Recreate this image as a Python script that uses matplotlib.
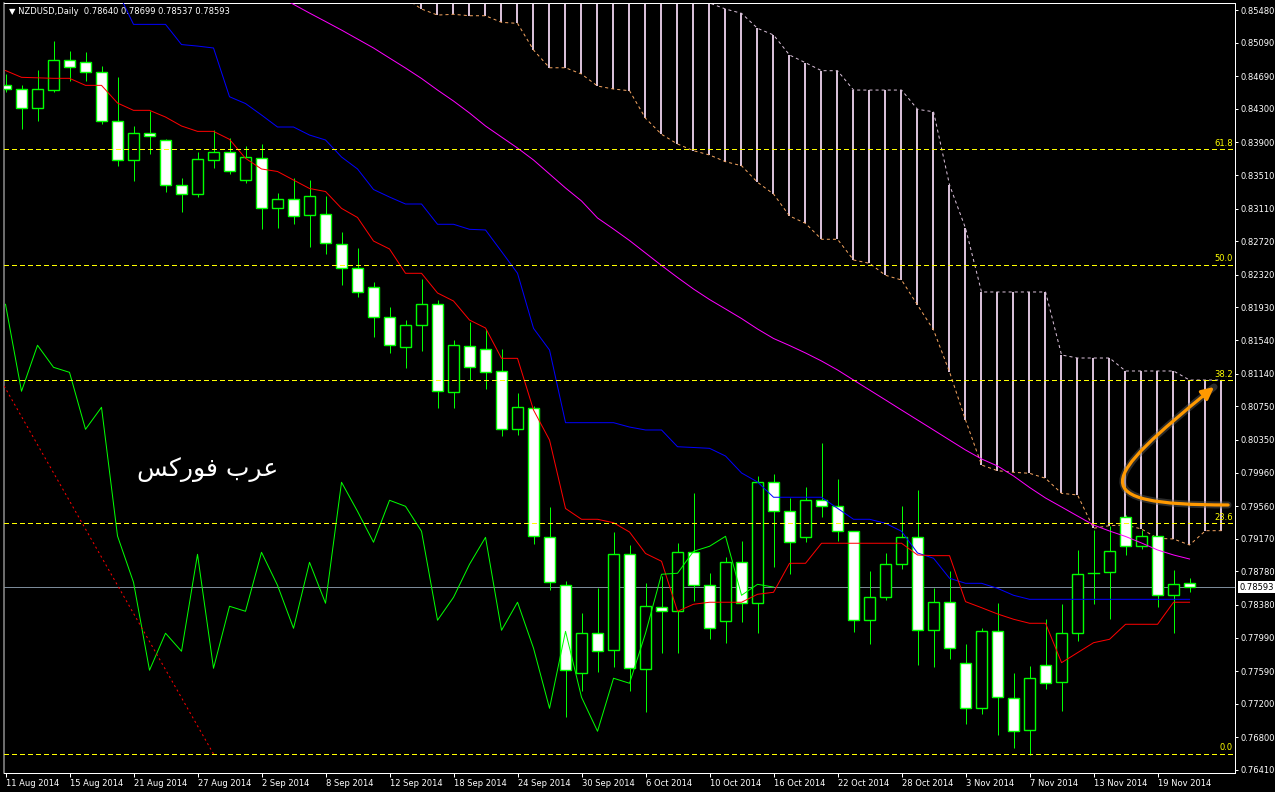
import numpy as np
import matplotlib
matplotlib.use("Agg")
import matplotlib.pyplot as plt
from matplotlib.patches import Rectangle, FancyArrowPatch
from matplotlib.path import Path
from matplotlib.transforms import blended_transform_factory

plt.rcParams["lines.scale_dashes"] = False
plt.rcParams["font.family"] = ["DejaVu Sans"]

# ---------------- data ----------------
title_text = "NZDUSD,Daily  0.78640 0.78699 0.78537 0.78593"
date_labels = ["11 Aug 2014", "15 Aug 2014", "21 Aug 2014", "27 Aug 2014", "2 Sep 2014",
               "8 Sep 2014", "12 Sep 2014", "18 Sep 2014", "24 Sep 2014", "30 Sep 2014",
               "6 Oct 2014", "10 Oct 2014", "16 Oct 2014", "22 Oct 2014", "28 Oct 2014",
               "3 Nov 2014", "7 Nov 2014", "13 Nov 2014", "19 Nov 2014"]
label_step = 4

opens = [0.84581, 0.84534, 0.84307, 0.84529, 0.84880, 0.84856, 0.84736, 0.84152, 0.83686, 0.84009,
         0.83925, 0.83388, 0.83281, 0.83686, 0.83782, 0.83448, 0.83710, 0.83113, 0.83221, 0.83030,
         0.83042, 0.82684, 0.82397, 0.82171, 0.81813, 0.81455, 0.81717, 0.81968, 0.80918, 0.81467,
         0.81431, 0.81168, 0.80476, 0.80727, 0.79187, 0.78614, 0.77564, 0.78042, 0.77839, 0.78984,
         0.77612, 0.78352, 0.78304, 0.79008, 0.78614, 0.78185, 0.78889, 0.78400, 0.79844, 0.79497,
         0.79187, 0.79629, 0.79557, 0.79259, 0.78197, 0.78471, 0.78865, 0.79187, 0.78077, 0.78412,
         0.77684, 0.77146, 0.78065, 0.77266, 0.76884, 0.77660, 0.77457, 0.78042, 0.78758, 0.78770,
         0.79426, 0.79080, 0.79199, 0.78495, 0.78640]
highs = [0.84716, 0.84581, 0.84764, 0.85110, 0.84991, 0.84979, 0.84812, 0.84677, 0.84092, 0.84278,
         0.83937, 0.83475, 0.83782, 0.84044, 0.83949, 0.83853, 0.83877, 0.83293, 0.83472, 0.83448,
         0.83260, 0.82827, 0.82636, 0.82230, 0.81932, 0.81780, 0.82266, 0.82016, 0.81538, 0.81757,
         0.81669, 0.81431, 0.80906, 0.80751, 0.79545, 0.78666, 0.78284, 0.78578, 0.79250, 0.79092,
         0.78638, 0.78722, 0.79116, 0.79716, 0.78761, 0.78949, 0.79139, 0.79919, 0.79939, 0.79653,
         0.79784, 0.80313, 0.79879, 0.79263, 0.78781, 0.78996, 0.79557, 0.79748, 0.78578, 0.78781,
         0.77910, 0.78101, 0.78400, 0.77564, 0.77648, 0.78209, 0.78388, 0.79032, 0.79271, 0.79326,
         0.79453, 0.79274, 0.79203, 0.78793, 0.78699]
lows = [0.84501, 0.84056, 0.84159, 0.84505, 0.84636, 0.84636, 0.84123, 0.83622, 0.83443, 0.83765,
        0.83312, 0.83073, 0.83252, 0.83598, 0.83519, 0.83415, 0.82870, 0.82878, 0.82932, 0.82655,
        0.82572, 0.82202, 0.82051, 0.81574, 0.81383, 0.81204, 0.81414, 0.80734, 0.80734, 0.81061,
        0.80953, 0.80393, 0.80404, 0.79107, 0.78562, 0.77046, 0.77353, 0.77576, 0.77643, 0.77353,
        0.77106, 0.77803, 0.77803, 0.78423, 0.77970, 0.77922, 0.78180, 0.78042, 0.78829, 0.78746,
        0.79128, 0.79426, 0.79139, 0.78053, 0.77910, 0.78435, 0.78805, 0.77660, 0.77636, 0.77731,
        0.76956, 0.77075, 0.76824, 0.76669, 0.76586, 0.77373, 0.77111, 0.77946, 0.78388, 0.78209,
        0.78972, 0.79044, 0.78352, 0.78042, 0.78537]
closes = [0.84534, 0.84307, 0.84534, 0.84880, 0.84796, 0.84736, 0.84152, 0.83686, 0.84009, 0.83973,
          0.83388, 0.83281, 0.83698, 0.83782, 0.83555, 0.83722, 0.83113, 0.83221, 0.83016, 0.83260,
          0.82696, 0.82397, 0.82111, 0.81813, 0.81479, 0.81717, 0.81968, 0.80930, 0.81479, 0.81216,
          0.81156, 0.80476, 0.80739, 0.79203, 0.78650, 0.77600, 0.78042, 0.77827, 0.78984, 0.77624,
          0.78364, 0.78304, 0.79008, 0.78614, 0.78101, 0.78889, 0.78400, 0.79844, 0.79497, 0.79128,
          0.79629, 0.79557, 0.79259, 0.78197, 0.78471, 0.78865, 0.79187, 0.78077, 0.78412, 0.77863,
          0.77146, 0.78065, 0.77278, 0.76872, 0.77505, 0.77445, 0.78042, 0.78746, 0.78758, 0.79020,
          0.79080, 0.79199, 0.78495, 0.78626, 0.78593]

tenkan = [0.84758, 0.84677, 0.84671, 0.84665, 0.84665, 0.84581, 0.84581, 0.84370, 0.84283, 0.84283,
          0.84203, 0.84096, 0.84032, 0.84032, 0.83937, 0.83710, 0.83583, 0.83553, 0.83451, 0.83350,
          0.83314, 0.83113, 0.83004, 0.82723, 0.82628, 0.82338, 0.82338, 0.82103, 0.82007, 0.81780,
          0.81685, 0.81323, 0.81323, 0.80706, 0.80348, 0.79531, 0.79402, 0.79402, 0.79361, 0.79250,
          0.78994, 0.78901, 0.78304, 0.78388, 0.78412, 0.78412, 0.78412, 0.78507, 0.78531, 0.78877,
          0.78877, 0.79116, 0.79116, 0.79116, 0.79116, 0.79116, 0.79116, 0.78976, 0.78968, 0.78968,
          0.78419, 0.78347, 0.78272, 0.78209, 0.78161, 0.78161, 0.77691, 0.77810, 0.77929, 0.77970,
          0.78149, 0.78149, 0.78149, 0.78412, 0.78412]
nan = float("nan")
kijun = [nan, nan, nan, nan, nan, nan, 0.85898, 0.85707, 0.85309, 0.85309,
         0.85309, 0.85068, 0.85050, 0.85027, 0.84445, 0.84364, 0.84227, 0.84084, 0.84084, 0.83988,
         0.83929, 0.83726, 0.83583, 0.83338, 0.83248, 0.83165, 0.83165, 0.82923, 0.82923, 0.82863,
         0.82855, 0.82598, 0.82338, 0.81681, 0.81422, 0.80555, 0.80555, 0.80555, 0.80555, 0.80503,
         0.80468, 0.80468, 0.80268, 0.80259, 0.80249, 0.80157, 0.79955, 0.79847, 0.79665, 0.79665,
         0.79665, 0.79665, 0.79533, 0.79402, 0.79402, 0.79354, 0.79259, 0.79000, 0.78937, 0.78698,
         0.78638, 0.78638, 0.78578, 0.78495, 0.78447, 0.78447, 0.78447, 0.78447, 0.78447, 0.78447,
         0.78447, 0.78447, 0.78447, 0.78447, 0.78447]
moving_avg = [nan] * 17 + [
         0.85647, 0.85548, 0.85444,
         0.85343, 0.85241, 0.85134, 0.85027, 0.84907, 0.84788, 0.84663, 0.84525, 0.84394, 0.84251,
         0.84096, 0.83964, 0.83833, 0.83690, 0.83523, 0.83356, 0.83201, 0.82998, 0.82866, 0.82729,
         0.82580, 0.82431, 0.82288, 0.82150, 0.82025, 0.81912, 0.81798, 0.81673, 0.81560, 0.81476,
         0.81387, 0.81291, 0.81184, 0.81064, 0.80945, 0.80826, 0.80706, 0.80587, 0.80468, 0.80348,
         0.80229, 0.80122, 0.80038, 0.79919, 0.79782, 0.79656, 0.79549, 0.79441, 0.79334, 0.79262,
         0.79197, 0.79119, 0.79036, 0.78976, 0.78928]
chikou_shift = 26

# Senkou spans, bars 0..76 (cloud is projected past the last bar)
span_a = [nan] * 25 + [
          0.85623, 0.85492, 0.85420, 0.85429, 0.85412,
          0.85412, 0.85333, 0.85321, 0.85003, 0.84791, 0.84791, 0.84716, 0.84573, 0.84537, 0.84517,
          0.84188, 0.83997, 0.83881, 0.83801, 0.83750, 0.83670, 0.83622, 0.83424, 0.83284, 0.83022,
          0.82934, 0.82744, 0.82744, 0.82497, 0.82457, 0.82314, 0.82258, 0.81959, 0.81661, 0.81160,
          0.80587, 0.80050, 0.79982, 0.79963, 0.79951, 0.79891, 0.79712, 0.79692, 0.79295, 0.79326,
          0.79334, 0.79286, 0.79175, 0.79167, 0.79095, 0.79266, 0.79266]
span_b = [nan] * 25 + [0.86000] * 19 + [
          0.85564, 0.85492, 0.85441, 0.85262, 0.85182, 0.84943,
          0.84851, 0.84756, 0.84756, 0.84525, 0.84525, 0.84525, 0.84525, 0.84295, 0.84266, 0.83392,
          0.82875, 0.82115, 0.82115, 0.82115, 0.82115, 0.82115, 0.81363, 0.81327, 0.81327, 0.81327,
          0.81172, 0.81172, 0.81172, 0.81172, 0.81064, 0.81064, 0.81064]

fib_levels = [0.0, 23.6, 38.2, 50.0, 61.8]
fib_low, fib_high = 0.76601, 0.88280
fib_bar_high, fib_bar_low = -21.8, 13.0

price_ticks = [0.85480, 0.85090, 0.84690, 0.84300, 0.83900, 0.83510, 0.83110, 0.82720,
               0.82320, 0.81930, 0.81540, 0.81140, 0.80750, 0.80350, 0.79960, 0.79560,
               0.79170, 0.78780, 0.78380, 0.77990, 0.77590, 0.77200, 0.76800, 0.76410]
last_price = 0.78593

watermark = "\uFEB2\uFEDB\uFEAD\uFEEE\uFED3 \uFE8F\uFEAE\uFECB"   # "عرب فوركس" (shaped, visual order)
watermark_pos = (12.66, 0.79990)

arrow_bars = [76.41, 67.16, 68.41, 75.53]
arrow_prices = [0.79573, 0.79573, 0.79871, 0.80981]

# ---------------- style ----------------
PX = 0.72
LIME = "#00ff00"
THISTLE = "#d8bfd8"
SANDY = "#f4a460"
ORANGE = "#ff9900"

W, H = 1275, 792
fig = plt.figure(figsize=(W / 100, H / 100), dpi=100, facecolor="black")
ax = fig.add_axes([3.5 / W, 19 / H, (1235 - 3.5) / W, 770 / H], facecolor="black")
ax.set_xlim(-0.125, 76.84)
ax.set_ylim(0.76374, 0.85564)

n = len(opens)
bars = np.arange(n)
cloud_x = np.arange(len(span_a))

# cloud hatch
sa = np.array(span_a)
sb = np.array(span_b)
for i in cloud_x:
    if np.isnan(sa[i]) or np.isnan(sb[i]):
        continue
    ax.vlines(i - 0.03, min(sa[i], sb[i]), max(sa[i], sb[i]), color=THISTLE, lw=2 * PX, zorder=1)
ax.plot(cloud_x, sa, color=SANDY, lw=1 * PX, ls=(0, (2.2, 2.2)), zorder=1.5)
ax.plot(cloud_x, sb, color=THISTLE, lw=1 * PX, ls=(0, (2.2, 2.2)), zorder=1.5)

# last price line
ax.axhline(last_price, color="#7b8a99", lw=1 * PX, zorder=1.6, antialiased=False)

# candles
for i in range(n):
    o, h, l, c = opens[i], highs[i], lows[i], closes[i]
    top, bot = max(o, c), min(o, c)
    ax.plot([i, i], [top, h], color=LIME, lw=1 * PX, zorder=3, solid_capstyle="butt")
    ax.plot([i, i], [l, bot], color=LIME, lw=1 * PX, zorder=3, solid_capstyle="butt")
    if top - bot < 2e-5:
        ax.plot([i - 0.33, i + 0.33], [top, top], color=LIME, lw=1.4 * PX, zorder=3.1)
    else:
        ax.add_patch(Rectangle((i - 0.32, bot), 0.64, top - bot,
                               facecolor="white" if c < o else "black",
                               edgecolor=LIME, lw=1.4 * PX, zorder=3.1))

# indicator lines
ax.plot(bars, moving_avg, color="#ff00ff", lw=1 * PX, zorder=4)
ax.plot(bars, kijun, color="#0000ff", lw=1 * PX, zorder=4)
ax.plot(bars, tenkan, color="#ff0000", lw=1 * PX, zorder=4)
ax.plot(bars[: n - chikou_shift], closes[chikou_shift:], color=LIME, lw=1 * PX, zorder=4)

# Fibonacci retracement
ax.plot([fib_bar_high, fib_bar_low], [fib_high, fib_low], color="#ff0000", lw=1 * PX,
        ls=(0, (1.5, 2.2)), zorder=4.5)
bt = blended_transform_factory(ax.transAxes, ax.transData)
for lvl in fib_levels:
    p = fib_low + lvl / 100.0 * (fib_high - fib_low)
    ax.axhline(p, color="#ffff00", lw=1 * PX, ls=(0, (3.0, 2.2)), zorder=4.6, antialiased=False)
    ax.text(0.998, p + 0.00018, f"{lvl:.1f}", transform=bt, ha="right", va="bottom",
            color="#ffff00", fontsize=6, zorder=5)

# orange curved arrow
verts = list(zip(arrow_bars, arrow_prices))
codes = [Path.MOVETO, Path.CURVE4, Path.CURVE4, Path.CURVE4]
shadow = FancyArrowPatch(path=Path(verts, codes), arrowstyle="-", color="#606060",
                         lw=7 * PX, alpha=0.45, zorder=5)
ax.add_patch(shadow)
arrow = FancyArrowPatch(path=Path(verts, codes), arrowstyle="-|>", mutation_scale=18,
                        color=ORANGE, lw=3.2 * PX, zorder=5.1)
ax.add_patch(arrow)

# watermark text
ax.text(watermark_pos[0], watermark_pos[1], watermark, color="white", fontsize=18,
        ha="center", va="center", zorder=6)

# axes styling
ax.yaxis.tick_right()
ax.set_yticks(price_ticks)
ax.set_yticklabels([f"{v:.5f}" for v in price_ticks])
ax.tick_params(axis="y", colors="white", labelcolor="white", length=3 * PX, width=1 * PX,
               pad=2, labelsize=6)
tick_bars = np.arange(0, n, label_step)[: len(date_labels)]
ax.set_xticks(tick_bars)
ax.set_xticklabels(date_labels)
ax.tick_params(axis="x", colors="white", labelcolor="white", length=4 * PX, width=1 * PX,
               pad=1.5, labelsize=6)
for lab in ax.get_xticklabels():
    lab.set_ha("left")
for side in ["right", "bottom", "top"]:
    ax.spines[side].set_color("white")
    ax.spines[side].set_linewidth(1 * PX)
ax.spines["left"].set_color("#909090")
ax.spines["left"].set_linewidth(1.5 * PX)

# last price label
ax.text(1.004, last_price, f"{last_price:.5f}", transform=bt, ha="left", va="center",
        color="black", fontsize=6, clip_on=False, zorder=7,
        bbox=dict(facecolor="white", edgecolor="none", pad=1.2))

# title
fig.text(9 / W, 1 - 12 / H, "\u25bc " + title_text, color="white", fontsize=6,
         ha="left", va="center")

fig.savefig("out.png", dpi=100, facecolor="black")
